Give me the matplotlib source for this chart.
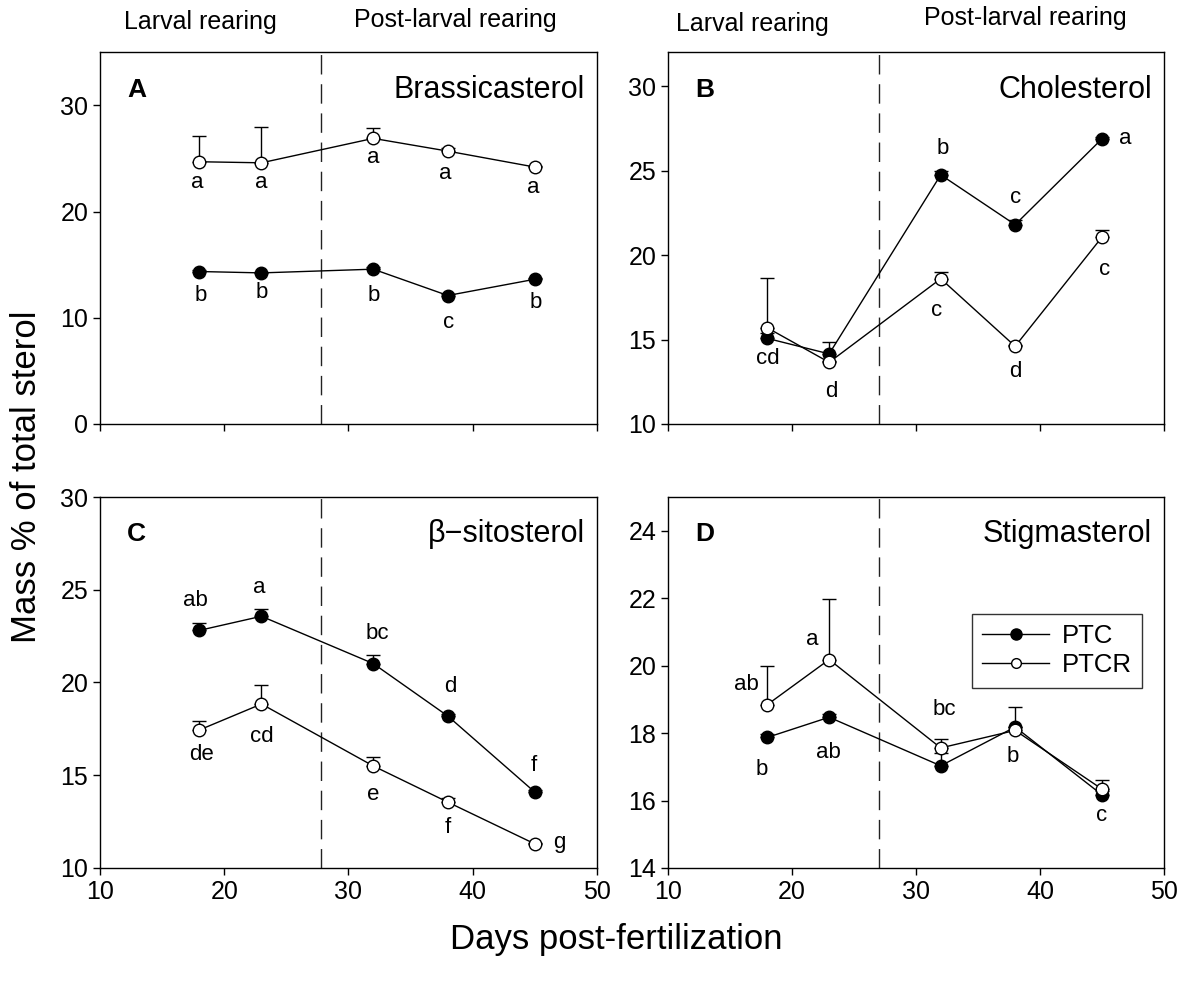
import numpy as np
import matplotlib
matplotlib.use('Agg')
import matplotlib.pyplot as plt
from matplotlib.lines import Line2D

plt.rcParams['font.family'] = ['Liberation Sans', 'DejaVu Sans']

days = [18, 23, 32, 38, 45]

# A - Brassicasterol
bras_ptc = [14.36, 14.23, 14.58, 12.1, 13.63]
bras_ptc_err = [0.15, 0.1, 0.25, 0.1, 0.15]
bras_ptcr = [24.7, 24.6, 26.9, 25.7, 24.2]
bras_ptcr_err = [2.4, 3.4, 0.95, 0.3, 0.1]
bras_letters = [(17.8, 22.7, 'a'), (23, 22.7, 'a'), (32, 25.1, 'a'),
                (37.8, 23.6, 'a'), (44.9, 22.3, 'a'),
                (18.1, 12.1, 'b'), (23, 12.4, 'b'), (32, 12.1, 'b'),
                (38.1, 9.6, 'c'), (45.1, 11.4, 'b')]

# B - Cholesterol
chol_ptc = [15.07, 14.15, 24.75, 21.8, 26.88]
chol_ptc_err = [0.3, 0.7, 0.25, 0.3, 0.1]
chol_ptcr = [15.7, 13.65, 18.6, 14.6, 21.06]
chol_ptcr_err = [2.95, 0.1, 0.4, 0.1, 0.45]
chol_letters = [(18.06, 13.85, 'cd'), (23.2, 11.9, 'd'), (32.2, 26.3, 'b'),
                (38.06, 23.4, 'c'), (46.9, 26.9, 'a'),
                (31.65, 16.7, 'c'), (38, 13.1, 'd'), (45.25, 19.15, 'c')]

# C - beta-sitosterol
sito_ptc = [22.81, 23.57, 21.02, 18.19, 14.09]
sito_ptc_err = [0.42, 0.4, 0.45, 0.1, 0.1]
sito_ptcr = [17.44, 18.84, 15.5, 13.55, 11.3]
sito_ptcr_err = [0.5, 1.0, 0.47, 0.2, 0.05]
sito_letters = [(17.65, 24.43, 'ab'), (22.8, 25.1, 'a'), (32.3, 22.63, 'bc'),
                (38.2, 19.8, 'd'), (44.95, 15.5, 'f'),
                (18.2, 16.1, 'de'), (23.05, 17.1, 'cd'), (32, 13.98, 'e'),
                (38, 12.2, 'f'), (47.0, 11.36, 'g')]

# D - Stigmasterol
stig_ptc = [17.87, 18.47, 17.03, 18.18, 16.17]
stig_ptc_err = [0.1, 0.1, 0.37, 0.6, 0.1]
stig_ptcr = [18.84, 20.18, 17.56, 18.08, 16.34]
stig_ptcr_err = [1.16, 1.8, 0.25, 0.1, 0.27]
stig_letters = [(16.36, 19.44, 'ab'), (21.6, 20.77, 'a'), (32.3, 18.71, 'bc'),
                (17.6, 16.93, 'b'), (22.95, 17.43, 'ab'), (37.8, 17.31, 'b'),
                (45.0, 15.55, 'c')]

panels = [
    ('A', 'Brassicasterol', bras_ptc, bras_ptc_err, bras_ptcr, bras_ptcr_err,
     bras_letters, (0, 35), [0, 10, 20, 30], 27.8),
    ('B', 'Cholesterol', chol_ptc, chol_ptc_err, chol_ptcr, chol_ptcr_err,
     chol_letters, (10, 32), [10, 15, 20, 25, 30], 27.0),
    ('C', '\u03b2\u2212sitosterol', sito_ptc, sito_ptc_err, sito_ptcr,
     sito_ptcr_err, sito_letters, (10, 30), [10, 15, 20, 25, 30], 27.8),
    ('D', 'Stigmasterol', stig_ptc, stig_ptc_err, stig_ptcr, stig_ptcr_err,
     stig_letters, (14, 25), [14, 16, 18, 20, 22, 24], 27.0),
]

positions = [
    [0.084, 0.5687, 0.4176, 0.378],
    [0.5613, 0.5687, 0.4168, 0.378],
    [0.084, 0.117, 0.4176, 0.3774],
    [0.5613, 0.117, 0.4168, 0.3774],
]

fig = plt.figure(figsize=(11.9, 9.83), dpi=100)

for i, (tag, name, ptc, ptc_err, ptcr, ptcr_err, letters, ylim, yticks,
        dash_x) in enumerate(panels):
    ax = fig.add_axes(positions[i])

    ax.axvline(dash_x, color='#222222', lw=1, linestyle=(0, (14, 7)))

    ax.errorbar(days, ptc, yerr=[np.zeros(5), ptc_err], fmt='none',
                ecolor='k', elinewidth=1, capsize=5, capthick=1, zorder=2)
    ax.plot(days, ptc, color='k', lw=1, marker='o', markersize=9,
            markerfacecolor='k', markeredgecolor='k', zorder=3)

    ax.errorbar(days, ptcr, yerr=[np.zeros(5), ptcr_err], fmt='none',
                ecolor='k', elinewidth=1, capsize=5, capthick=1, zorder=4)
    ax.plot(days, ptcr, color='k', lw=1, marker='o', markersize=9,
            markerfacecolor='white', markeredgecolor='k', markeredgewidth=1,
            zorder=5)

    for lx, ly, txt in letters:
        ax.text(lx, ly, txt, ha='center', va='center', fontsize=16)

    ax.text(0.074, 0.9, tag, transform=ax.transAxes, fontsize=19,
            fontweight='bold', ha='center', va='center')
    ax.text(0.976, 0.9, name, transform=ax.transAxes, fontsize=22,
            ha='right', va='center')

    ax.set_xlim(10, 50)
    ax.set_ylim(*ylim)
    ax.set_xticks([10, 20, 30, 40, 50])
    ax.set_yticks(yticks)
    ax.tick_params(direction='out', length=5, width=1, labelsize=18)
    if i < 2:
        ax.set_xticklabels([])
    for sp in ax.spines.values():
        sp.set_linewidth(1)

    if tag == 'D':
        handles = [
            Line2D([], [], color='k', lw=1, marker='o', markersize=8,
                   markerfacecolor='k', markeredgecolor='k'),
            Line2D([], [], color='k', lw=1, marker='o', markersize=7,
                   markerfacecolor='white', markeredgecolor='k'),
        ]
        leg = ax.legend(handles, ['PTC', 'PTCR'], loc='upper right',
                        bbox_to_anchor=(0.956, 0.685), fontsize=18.5,
                        frameon=True, fancybox=False, edgecolor='k',
                        handlelength=2.6, borderaxespad=0, labelspacing=0.2,
                        borderpad=0.4, handletextpad=0.5)
        leg.get_frame().set_linewidth(1)

fig.text(200 / 1190, 1 - 22 / 983, 'Larval rearing', ha='center',
         va='center', fontsize=18)
fig.text(455 / 1190, 1 - 20 / 983, 'Post-larval rearing', ha='center',
         va='center', fontsize=18)
fig.text(752 / 1190, 1 - 24 / 983, 'Larval rearing', ha='center',
         va='center', fontsize=18)
fig.text(1025 / 1190, 1 - 18 / 983, 'Post-larval rearing', ha='center',
         va='center', fontsize=18)

fig.text(27 / 1190, 1 - 477 / 983, 'Mass % of total sterol', rotation=90,
         ha='center', va='center', fontsize=25)
fig.text(616 / 1190, 1 - 940 / 983, 'Days post-fertilization', ha='center',
         va='center', fontsize=25)

fig.savefig('out.png', dpi=100)
